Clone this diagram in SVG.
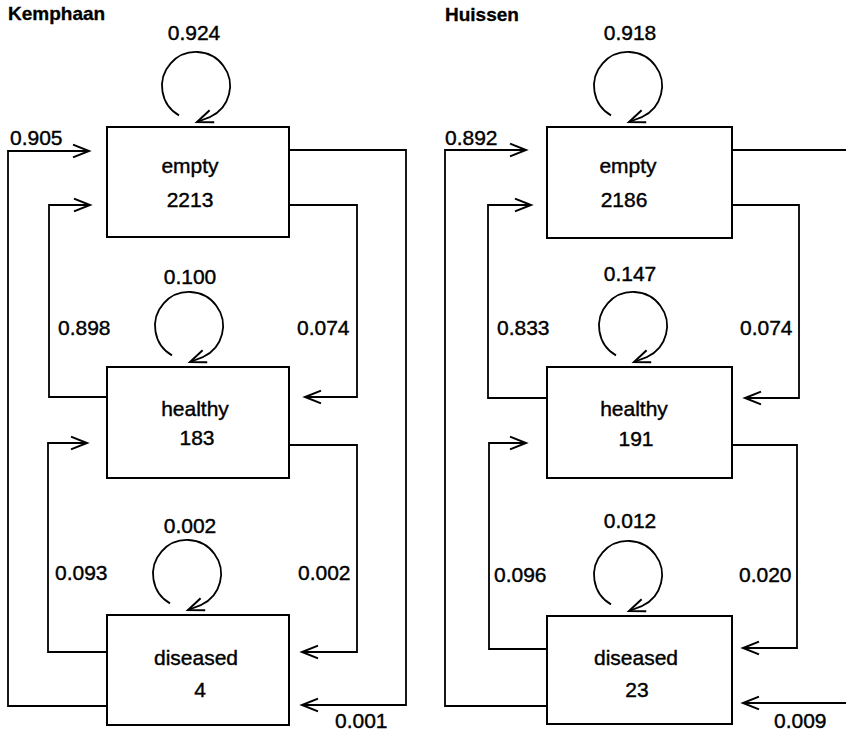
<svg xmlns="http://www.w3.org/2000/svg" width="846" height="737" viewBox="0 0 846 737">
<defs>
<style>
.box{fill:#fff;stroke:#000;stroke-width:2}
.c{fill:none;stroke:#000;stroke-width:1.8;marker-end:url(#ah)}
.t{font-family:"Liberation Sans",Arial,sans-serif;font-size:21px;fill:#000;stroke:#000;stroke-width:0.4}
.m{text-anchor:middle}
.h{font-family:"Liberation Sans",Arial,sans-serif;font-size:19px;font-weight:bold;fill:#000;stroke:#000;stroke-width:0.3}
</style>
<marker id="ah" markerUnits="userSpaceOnUse" markerWidth="20" markerHeight="16" viewBox="0 0 20 16" refX="18" refY="8" orient="auto" overflow="visible">
<path d="M2,1.6 L18,8 L2,14.4" fill="none" stroke="#000" stroke-width="2"/>
</marker>
</defs>
<rect width="846" height="737" fill="#fff"/>
<g id="titles">
<text class="h" x="8" y="20">Kemphaan</text>
<text class="h" x="445" y="21">Huissen</text>
</g>
<g id="connectors">
<!-- Kemphaan -->
<path class="c" d="M107,706 H8 V151 H89"/>
<path class="c" d="M107,397 H49 V205 H90"/>
<path class="c" d="M289,205 H357 V397 H305"/>
<path class="c" d="M289,150 H406 V705 H302"/>
<path class="c" d="M107,652 H48 V443 H87"/>
<path class="c" d="M289,445 H357 V652 H302"/>
<path class="c" d="M179,115.4 A34,34 0 1 1 210.4,116.8 L197,122"/>
<path class="c" d="M172,355.4 A34,34 0 1 1 203.4,356.8 L190,362"/>
<path class="c" d="M170,603.4 A34,34 0 1 1 201.4,604.8 L188,610"/>
<!-- Huissen -->
<path class="c" d="M547,706 H445 V150 H526"/>
<path class="c" d="M547,398 H488 V205 H531"/>
<path class="c" d="M732,205 H799 V398 H745"/>
<path class="c" d="M732,150 H870 V703 H743"/>
<path class="c" d="M547,649 H489 V443 H526"/>
<path class="c" d="M732,445 H797 V648 H743"/>
<path class="c" d="M611,115.4 A34,34 0 1 1 642.4,116.8 L629,122"/>
<path class="c" d="M616,355.4 A34,34 0 1 1 647.4,356.8 L634,362"/>
<path class="c" d="M611,604.4 A34,34 0 1 1 642.4,605.8 L629,611"/>
<g id="edge-labels">
<text class="t" x="10" y="145">0.905</text>
<text class="t m" x="194" y="40">0.924</text>
<text class="t m" x="190" y="284">0.100</text>
<text class="t" x="58" y="335">0.898</text>
<text class="t" x="297" y="335">0.074</text>
<text class="t m" x="190" y="533">0.002</text>
<text class="t" x="55" y="580">0.093</text>
<text class="t" x="298" y="580">0.002</text>
<text class="t" x="335" y="728">0.001</text>
<text class="t" x="445" y="145">0.892</text>
<text class="t m" x="630" y="40">0.918</text>
<text class="t m" x="630" y="281">0.147</text>
<text class="t" x="497" y="335">0.833</text>
<text class="t" x="740" y="335">0.074</text>
<text class="t m" x="630" y="528">0.012</text>
<text class="t" x="494" y="582">0.096</text>
<text class="t" x="739" y="582">0.020</text>
<text class="t" x="774" y="728">0.009</text>
</g>
</g>
<g id="k-empty">
<rect class="box" x="107" y="127" width="182" height="110"/>
<text class="t m" x="190" y="173">empty</text>
<text class="t m" x="190" y="207">2213</text>
</g>
<g id="k-healthy">
<rect class="box" x="107" y="367" width="182" height="111"/>
<text class="t m" x="195" y="416">healthy</text>
<text class="t m" x="197" y="445">183</text>
</g>
<g id="k-diseased">
<rect class="box" x="107" y="615" width="182" height="110"/>
<text class="t m" x="196" y="665">diseased</text>
<text class="t m" x="200" y="697">4</text>
</g>
<g id="h-empty">
<rect class="box" x="547" y="127" width="185" height="111"/>
<text class="t m" x="628" y="173">empty</text>
<text class="t m" x="624" y="207">2186</text>
</g>
<g id="h-healthy">
<rect class="box" x="547" y="367" width="185" height="111"/>
<text class="t m" x="634" y="416">healthy</text>
<text class="t m" x="636" y="446">191</text>
</g>
<g id="h-diseased">
<rect class="box" x="547" y="616" width="185" height="108"/>
<text class="t m" x="636" y="665">diseased</text>
<text class="t m" x="637" y="697">23</text>
</g>
</svg>
